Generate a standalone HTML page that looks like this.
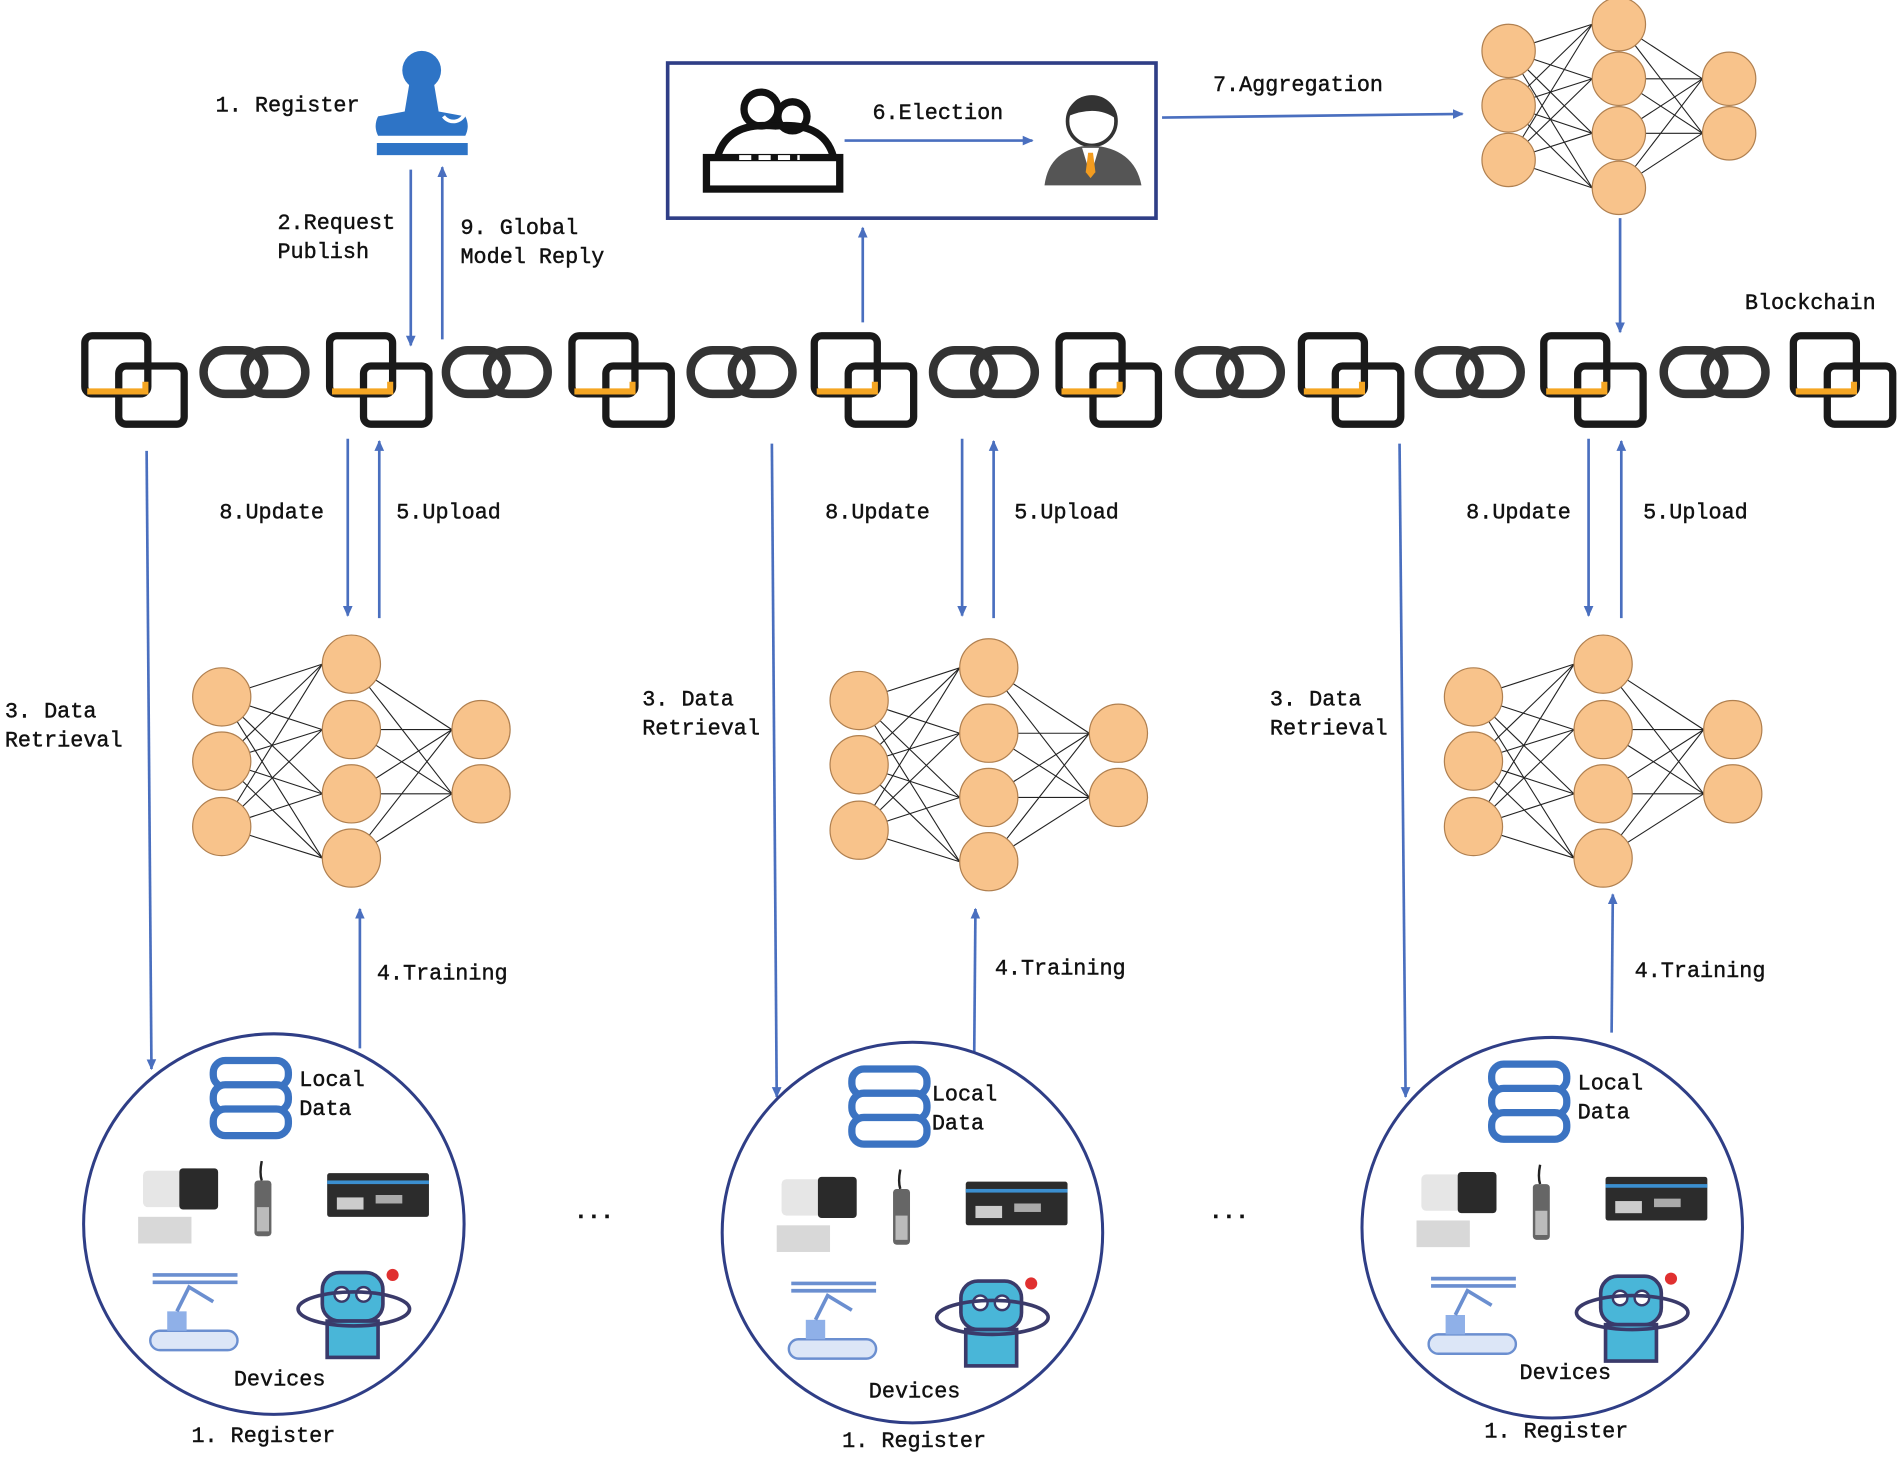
<!DOCTYPE html>
<html><head><meta charset="utf-8"><style>
html,body{margin:0;padding:0;background:#fff;width:1900px;height:1458px;overflow:hidden}
svg{display:block}
text{font-family:"Liberation Mono",monospace;font-size:18px;fill:#111;stroke:#111;stroke-width:0.35}
</style></head><body>
<svg id="s" width="1900" height="1458" viewBox="0 0 1568 1203" preserveAspectRatio="none" xmlns="http://www.w3.org/2000/svg">
<defs>
<marker id="a" markerWidth="10" markerHeight="10" refX="8" refY="5" orient="auto" markerUnits="userSpaceOnUse"><path d="M0,1 L9,5 L0,9 Z" fill="#4a6fbf"/></marker>
</defs>
<g id="g"></g>
<rect x="551" y="52" width="403" height="128" fill="none" stroke="#2f3e86" stroke-width="3"/>
<g fill="none" stroke="#111" stroke-width="6">
<circle cx="628" cy="90" r="14"/><circle cx="654" cy="96" r="12"/>
<path d="M592,130 Q600,100 640,104 Q680,100 688,130"/>
<rect x="583" y="130" width="110" height="26"/>
</g>
<line x1="610" y1="130" x2="660" y2="130" stroke="#fff" stroke-width="4" stroke-dasharray="10 6"/>
<circle cx="901" cy="100" r="20" fill="#fff" stroke="#333" stroke-width="3"/>
<path d="M881,96 Q885,76 905,80 Q920,82 921,98 Q905,86 881,96Z" fill="#333"/>
<path d="M862,153 Q866,122 900,120 Q936,122 942,153Z" fill="#555"/>
<path d="M893,122 L900,145 L907,122Z" fill="#fff"/><path d="M898,126 L902,126 L904,142 L900,147 L896,142Z" fill="#f39c1f"/>
<g fill="#2e74c6">
<circle cx="348" cy="58" r="16"/>
<path d="M338,68 L358,68 L362,92 L384,96 Q388,104 384,112 L312,112 Q308,104 312,96 L334,92Z"/>
<rect x="311" y="118" width="75" height="10"/>
</g>
<path d="M366,86 a10,10 0 0 1 18,-4 M384,92 a10,10 0 0 1 -18,4" stroke="#fff" stroke-width="3" fill="none"/>
<g stroke="#4a6fbf" stroke-width="2.2" fill="none" marker-end="url(#a)">
<line x1="697" y1="116" x2="852" y2="116"/>
<line x1="959" y1="97" x2="1207" y2="94"/>
<line x1="1337" y1="180" x2="1337" y2="274"/>
<line x1="712" y1="266" x2="712" y2="188"/>
<line x1="339" y1="140" x2="339" y2="285"/>
<line x1="365" y1="280" x2="365" y2="138"/>
<line x1="287" y1="362" x2="287" y2="508"/>
<line x1="313" y1="510" x2="313" y2="364"/>
<line x1="794" y1="362" x2="794" y2="508"/>
<line x1="820" y1="510" x2="820" y2="364"/>
<line x1="1311" y1="362" x2="1311" y2="508"/>
<line x1="1338" y1="510" x2="1338" y2="364"/>
<line x1="121" y1="372" x2="125" y2="882"/>
<line x1="637" y1="366" x2="641" y2="905"/>
<line x1="1155" y1="366" x2="1160" y2="905"/>
<line x1="297" y1="865" x2="297" y2="750"/>
<line x1="804" y1="868" x2="805" y2="750"/>
<line x1="1330" y1="852" x2="1331" y2="738"/>
</g>
<g fill="none" stroke="#2f3e86" stroke-width="2.5">
<circle cx="226" cy="1010" r="157"/><circle cx="753" cy="1017" r="157"/><circle cx="1281" cy="1013" r="157"/>
</g>
<g id="dev"></g>
<text x="178" y="92">1. Register</text>
<text x="229" y="189">2.Request</text><text x="229" y="213">Publish</text>
<text x="380" y="193">9. Global</text><text x="380" y="217">Model Reply</text>
<text x="720" y="98">6.Election</text>
<text x="1001" y="75">7.Aggregation</text>
<text x="1440" y="255">Blockchain</text>
<text x="181" y="428">8.Update</text><text x="327" y="428">5.Upload</text>
<text x="681" y="428">8.Update</text><text x="837" y="428">5.Upload</text>
<text x="1210" y="428">8.Update</text><text x="1356" y="428">5.Upload</text>
<text x="4" y="592">3. Data</text><text x="4" y="616">Retrieval</text>
<text x="530" y="582">3. Data</text><text x="530" y="606">Retrieval</text>
<text x="1048" y="582">3. Data</text><text x="1048" y="606">Retrieval</text>
<text x="311" y="808">4.Training</text><text x="821" y="804">4.Training</text><text x="1349" y="806">4.Training</text>
<text x="247" y="896">Local</text><text x="247" y="920">Data</text>
<text x="769" y="908">Local</text><text x="769" y="932">Data</text>
<text x="1302" y="899">Local</text><text x="1302" y="923">Data</text>
<text x="193" y="1143">Devices</text><text x="717" y="1153">Devices</text><text x="1254" y="1138">Devices</text>
<text x="158" y="1190">1. Register</text><text x="695" y="1194">1. Register</text><text x="1225" y="1186">1. Register</text>
<text x="474" y="1005" style="font-weight:bold">...</text><text x="998" y="1005" style="font-weight:bold">...</text>
</svg>
<script>
var NS="http://www.w3.org/2000/svg",g=document.getElementById('g'),d=document.getElementById('dev');
function el(p,t,a){var e=document.createElementNS(NS,t);for(var k in a)e.setAttribute(k,a[k]);p.appendChild(e);return e;}
function net(ix,iy,hx,hy,ox,oy,r){
 iy.forEach(function(a){hy.forEach(function(b){el(g,'line',{x1:ix,y1:a,x2:hx-r,y2:b,stroke:'#222','stroke-width':0.9});});});
 hy.forEach(function(a){oy.forEach(function(b){el(g,'line',{x1:hx,y1:a,x2:ox-r,y2:b,stroke:'#222','stroke-width':0.9});});});
 [[ix,iy],[hx,hy],[ox,oy]].forEach(function(c){c[1].forEach(function(y){el(g,'circle',{cx:c[0],cy:y,r:r,fill:'#f8c38b',stroke:'#b08050','stroke-width':1});});});
}
net(1245,[42,87,132],1336,[20,65,110,155],1427,[65,110],22);
[[0,0],[526,3],[1033,0]].forEach(function(o){var dx=o[0],dy=o[1];
 net(183+dx,[575+dy,628+dy,682+dy],290+dx,[548+dy,602+dy,655+dy,708+dy],397+dx,[602+dy,655+dy],24);});
[110,312,512,712,914,1114,1314,1520].forEach(function(c){
 var x=c-40;
 el(g,'rect',{x:x,y:277,width:52,height:48,rx:6,fill:'none',stroke:'#1a1a1a','stroke-width':6});
 el(g,'rect',{x:x+28,y:302,width:54,height:48,rx:6,fill:'none',stroke:'#1a1a1a','stroke-width':6});
 el(g,'path',{d:'M'+(x+2)+',323 L'+(x+50)+',323 L'+(x+50)+',315',fill:'none',stroke:'#f5a623','stroke-width':5});
});
[210,410,612,812,1015,1213,1415].forEach(function(c){
 el(g,'rect',{x:c-42,y:289,width:50,height:36,rx:18,fill:'none',stroke:'#333','stroke-width':7});
 el(g,'rect',{x:c-8,y:289,width:50,height:36,rx:18,fill:'none',stroke:'#333','stroke-width':7});
});
[[226,1010],[753,1017],[1281,1013]].forEach(function(c){var x=c[0],y=c[1];
 var dbx=x-50,dby=y-135;
 for(var i=0;i<3;i++)el(d,'rect',{x:dbx,y:dby+i*20,width:62,height:22,rx:10,fill:'#fff',stroke:'#3b73c2','stroke-width':6});
 el(d,'rect',{x:x-108,y:y-44,width:60,height:30,rx:4,fill:'#e6e6e6'});
 el(d,'rect',{x:x-78,y:y-46,width:32,height:34,rx:3,fill:'#2a2a2a'});
 el(d,'rect',{x:x-112,y:y-6,width:44,height:22,fill:'#d8d8d8'});
 el(d,'path',{d:'M'+(x-10)+','+(y-52)+' q-2,10 0,16',stroke:'#222','stroke-width':2,fill:'none'});
 el(d,'rect',{x:x-16,y:y-36,width:14,height:46,rx:3,fill:'#666'});
 el(d,'rect',{x:x-14,y:y-14,width:10,height:20,fill:'#bbb'});
 el(d,'rect',{x:x+44,y:y-42,width:84,height:36,rx:2,fill:'#2c2c2c'});
 el(d,'rect',{x:x+44,y:y-36,width:84,height:3,fill:'#3b8fd0'});
 el(d,'rect',{x:x+52,y:y-22,width:22,height:10,fill:'#ccc'});
 el(d,'rect',{x:x+84,y:y-24,width:22,height:7,fill:'#aaa'});
 el(d,'rect',{x:x-102,y:y+88,width:72,height:16,rx:8,fill:'#dce6f7',stroke:'#6b8fd0','stroke-width':2});
 el(d,'rect',{x:x-88,y:y+72,width:16,height:16,fill:'#8fb0e8'});
 el(d,'path',{d:'M'+(x-80)+','+(y+72)+' L'+(x-70)+','+(y+52)+' L'+(x-50)+','+(y+64)+' M'+(x-100)+','+(y+42)+' L'+(x-30)+','+(y+42)+' M'+(x-100)+','+(y+48)+' L'+(x-30)+','+(y+48),stroke:'#6b8fd0','stroke-width':3,fill:'none'});
 el(d,'rect',{x:x+40,y:y+40,width:50,height:40,rx:14,fill:'#49b6d8',stroke:'#3a3a6a','stroke-width':3});
 el(d,'rect',{x:x+44,y:y+80,width:42,height:30,fill:'#49b6d8',stroke:'#3a3a6a','stroke-width':3});
 el(d,'circle',{cx:x+56,cy:y+58,r:6,fill:'#fff',stroke:'#3a3a6a','stroke-width':2});
 el(d,'circle',{cx:x+74,cy:y+58,r:6,fill:'#fff',stroke:'#3a3a6a','stroke-width':2});
 el(d,'ellipse',{cx:x+66,cy:y+70,rx:46,ry:14,fill:'none',stroke:'#3a3a6a','stroke-width':3});
 el(d,'circle',{cx:x+98,cy:y+42,r:5,fill:'#e03030'});
});
</script>
</body></html>
